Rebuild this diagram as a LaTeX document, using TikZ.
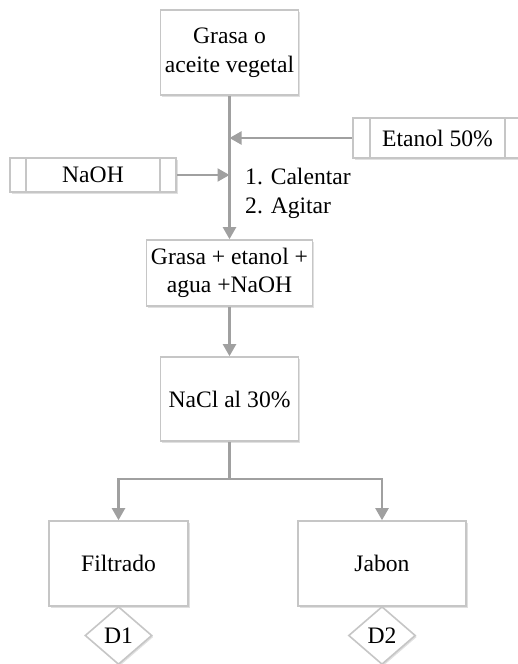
\documentclass[tikz,border=0pt]{standalone}
\usepackage{fontspec}
\setmainfont{Liberation Serif}
\usetikzlibrary{arrows.meta,shapes.geometric,shadows}
\definecolor{boxline}{HTML}{C6C6C6}
\definecolor{arrline}{HTML}{A0A0A0}
\begin{document}
\begin{tikzpicture}[x=1pt,y=-1pt,
  every node/.style={font=\fontsize{23.6}{28.5}\selectfont, text=black},
  shade/.style={drop shadow={shadow xshift=1.5pt, shadow yshift=-1.5pt, opacity=0.12, fill=black}},
  stepbox/.style={draw=boxline, line width=1.6pt, fill=white, align=center, inner sep=0pt, shade},
  procbox/.style={stepbox, path picture={
      \draw[boxline, line width=1.6pt] ([xshift=#1]path picture bounding box.north west) -- ([xshift=#1]path picture bounding box.south west);
      \draw[boxline, line width=1.6pt] ([xshift=-#1]path picture bounding box.north east) -- ([xshift=-#1]path picture bounding box.south east);}},
  refdia/.style={diamond, draw=boxline, line width=1.6pt, fill=white, inner sep=0pt, minimum width=67pt, minimum height=58pt, aspect=1.15, shade},
  arr/.style={draw=arrline, line width=2.2pt, -{Triangle[width=13pt,length=12pt]}},
  conn/.style={draw=arrline, line width=2.2pt}]
\useasboundingbox (0,0) rectangle (518,664);

\node[stepbox, minimum width=138pt, minimum height=85pt] (b1) at (229.5,52.5) {Grasa o\\aceite vegetal};
\node[stepbox, minimum width=166pt, minimum height=66pt] (b2) at (229.5,273) {Grasa + etanol +\\agua +NaOH};
\node[stepbox, minimum width=138pt, minimum height=84pt] (b3) at (229.5,399) {NaCl al 30\%};
\node[stepbox, minimum width=139pt, minimum height=85pt] (f) at (118.5,563.5) {Filtrado};
\node[stepbox, minimum width=168pt, minimum height=85pt] (j) at (382,563.5) {Jabon};
\node[refdia] (d1) at (118.5,635.5) {D1};
\node[refdia] (d2) at (382,635.5) {D2};

\node[procbox=17pt, minimum width=169pt, minimum height=40pt] (et) at (437.5,138) {Etanol 50\%};
\node[procbox=16pt, minimum width=166pt, minimum height=34pt] (na) at (93,175) {NaOH};

\node[anchor=north west, align=left, inner sep=0pt] (op) at (245,168) {1. Calentar\\2. Agitar};

\coordinate (je) at (b1.south |- et.west);
\coordinate (jn) at (b1.south |- na.east);
\draw[arr] (b1.south) -- (b2.north);
\draw[arr] (et.west) -- (je);
\draw[arr] (na.east) -- (jn);
\draw[arr] (b2.south) -- (b3.north);
\coordinate (split) at ([yshift=-37pt]b3.south);
\draw[conn] (b3.south) -- (split);
\draw[arr] (split) -| (f.north);
\draw[arr] (split) -| (j.north);
\end{tikzpicture}
\end{document}
